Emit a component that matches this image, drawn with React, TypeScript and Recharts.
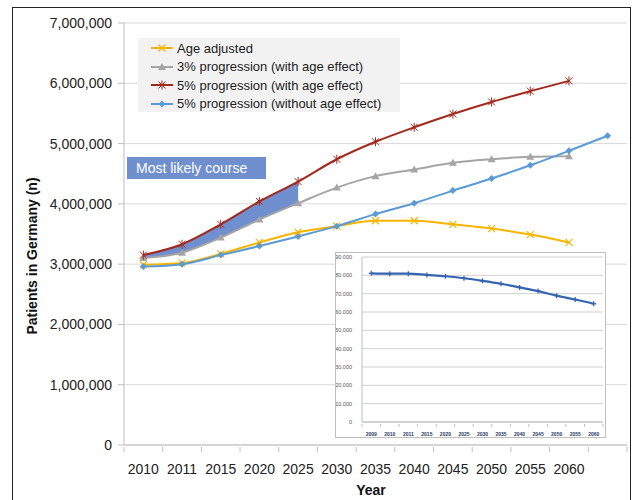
import React from "react";
import {
  Area,
  CartesianGrid,
  ComposedChart,
  Line,
  LineChart,
  XAxis,
  YAxis,
} from "recharts";

// main chart
const years = ["2010", "2011", "2015", "2020", "2025", "2030", "2035", "2040", "2045", "2050", "2055", "2060", ""];
const ageAdjusted = [2990000, 3020000, 3170000, 3360000, 3530000, 3630000, 3720000, 3720000, 3660000, 3590000, 3490000, 3360000, null];
const prog3WithAge = [3100000, 3190000, 3440000, 3740000, 4010000, 4270000, 4460000, 4570000, 4680000, 4740000, 4780000, 4790000, null];
const prog5WithAge = [3150000, 3330000, 3660000, 4040000, 4370000, 4740000, 5030000, 5270000, 5490000, 5690000, 5870000, 6040000, null];
const prog5NoAge = [2960000, 3000000, 3150000, 3300000, 3460000, 3630000, 3830000, 4010000, 4220000, 4420000, 4640000, 4880000, 5130000];
const yTicks = [0, 1000000, 2000000, 3000000, 4000000, 5000000, 6000000, 7000000];
const likelyCourseEnd = "2025";

// inset chart
const insetYears = ["2009", "2010", "2011", "2015", "2020", "2025", "2030", "2035", "2040", "2045", "2050", "2055", "2060"];
const insetValues = [81100, 80900, 80900, 80200, 79500, 78400, 77000, 75400, 73400, 71400, 68900, 66800, 64500];
const insetTicks = [0, 10000, 20000, 30000, 40000, 50000, 60000, 70000, 80000, 90000];

const FONT = '"Liberation Sans", Arial, sans-serif';
const YELLOW = "#f7b500";
const GRAY = "#a5a5a5";
const RED = "#a3281c";
const BLUE = "#5b9bd5";
const BAND = "#6f8fce";

const endIdx = years.indexOf(likelyCourseEnd);
const chartData = years.map((year, i) => ({
  year,
  ageAdjusted: ageAdjusted[i],
  prog3: prog3WithAge[i],
  prog5: prog5WithAge[i],
  prog5NoAge: prog5NoAge[i],
  band: i <= endIdx ? [prog3WithAge[i], prog5WithAge[i]] : null,
}));

const insetData = insetYears.map((year, i) => ({ year, value: insetValues[i] }));

const fmtEn = (v: number) => v.toLocaleString("en-US");
const fmtDe = (v: number) => String(v).replace(/\B(?=(\d{3})+(?!\d))/g, ".");

// excel-style ticks: marks between categories, label in the middle
function makeBoundaryTick(tickLen: number, fontSize: number, dy: number, style: any) {
  return function BoundaryTick(props: any) {
    const { x, y, payload, index, visibleTicksCount, width } = props;
    const half = payload?.offset || width / visibleTicksCount / 2;
    const top = y - tickLen;
    return (
      <g>
        <line x1={x - half} x2={x - half} y1={top} y2={y} stroke="#bfbfbf" />
        {index === visibleTicksCount - 1 && (
          <line x1={x + half} x2={x + half} y1={top} y2={y} stroke="#bfbfbf" />
        )}
        <text x={x} y={y + dy} textAnchor="middle" fontSize={fontSize} {...style}>
          {payload.value}
        </text>
      </g>
    );
  };
}

const MainTick = makeBoundaryTick(5, 14, 22, { fill: "#222", fontFamily: FONT });
const InsetTick = makeBoundaryTick(3, 5, 9, { fill: "#1f3864", fontFamily: FONT, fontWeight: 700 });

function InsetYTick(props: any) {
  const { x, y, payload } = props;
  return (
    <text x={x} y={y} dy={2} textAnchor="end" fontSize={5.5} fontFamily={FONT} fill="#555">
      {fmtDe(payload.value)}
    </text>
  );
}

const hidden = (cx: any, cy: any) => cx == null || cy == null || isNaN(cy);

function CrossDot(props: any) {
  const { cx, cy, index } = props;
  if (hidden(cx, cy)) return <g key={index} />;
  const s = 3.5;
  return (
    <g key={index} stroke={YELLOW} strokeWidth={1.2}>
      <line x1={cx - s} y1={cy - s} x2={cx + s} y2={cy + s} />
      <line x1={cx - s} y1={cy + s} x2={cx + s} y2={cy - s} />
    </g>
  );
}

function TriangleDot(props: any) {
  const { cx, cy, index } = props;
  if (hidden(cx, cy)) return <g key={index} />;
  return <polygon key={index} points={`${cx},${cy - 4} ${cx - 4},${cy + 3} ${cx + 4},${cy + 3}`} fill={GRAY} />;
}

function StarDot(props: any) {
  const { cx, cy, index } = props;
  if (hidden(cx, cy)) return <g key={index} />;
  const s = 3.5;
  return (
    <g key={index} stroke={RED} strokeWidth={1}>
      <line x1={cx - s} y1={cy - s} x2={cx + s} y2={cy + s} />
      <line x1={cx - s} y1={cy + s} x2={cx + s} y2={cy - s} />
      <line x1={cx} y1={cy - s - 1} x2={cx} y2={cy + s + 1} />
    </g>
  );
}

function DiamondDot(props: any) {
  const { cx, cy, index } = props;
  if (hidden(cx, cy)) return <g key={index} />;
  const s = 3.5;
  return (
    <polygon key={index} points={`${cx},${cy - s} ${cx + s},${cy} ${cx},${cy + s} ${cx - s},${cy}`} fill={BLUE} />
  );
}

function PlusDot(props: any) {
  const { cx, cy, index } = props;
  if (hidden(cx, cy)) return <g key={index} />;
  return (
    <g key={index} stroke="#3564b0" strokeWidth={1.3}>
      <line x1={cx - 2.5} y1={cy} x2={cx + 2.5} y2={cy} />
      <line x1={cx} y1={cy - 2.5} x2={cx} y2={cy + 2.5} />
    </g>
  );
}

const legendItems = [
  { label: "Age adjusted", color: YELLOW, Dot: CrossDot },
  { label: "3% progression (with age effect)", color: GRAY, Dot: TriangleDot },
  { label: "5% progression (with age effect)", color: RED, Dot: StarDot },
  { label: "5% progression (without age effect)", color: BLUE, Dot: DiamondDot },
];

function ChartLegend() {
  return (
    <div
      style={{
        position: "absolute",
        left: 138,
        top: 38,
        width: 262,
        height: 74,
        background: "#f2f2f2",
        fontFamily: FONT,
        fontSize: 13,
        color: "#222",
        paddingTop: 1,
        boxSizing: "border-box",
      }}
    >
      {legendItems.map(({ label, color, Dot }) => (
        <div key={label} style={{ display: "flex", alignItems: "center", height: 18.5 }}>
          <svg width={24} height={10} style={{ marginLeft: 13, marginRight: 2 }}>
            <line x1={0} x2={22} y1={5} y2={5} stroke={color} strokeWidth={2} />
            <Dot cx={11} cy={5} index={0} />
          </svg>
          <span>{label}</span>
        </div>
      ))}
    </div>
  );
}

export default function App() {
  return (
    <div style={{ position: "absolute", left: 0, top: 0, width: 634, height: 500, background: "#fff", overflow: "hidden" }}>
      <div
        style={{
          position: "absolute",
          left: 12,
          top: 7,
          width: 619,
          height: 520,
          border: "1px solid #222",
          boxSizing: "border-box",
        }}
      />
      <div style={{ position: "absolute", left: 0, top: 0 }}>
        <ComposedChart width={634} height={500} data={chartData} margin={{ top: 23, right: 7, bottom: 0, left: 0 }}>
          <CartesianGrid vertical={false} stroke="#d9d9d9" />
          <XAxis
            dataKey="year"
            scale="band"
            interval={0}
            height={55}
            tickSize={5}
            tickLine={false}
            stroke="#bfbfbf"
            tick={<MainTick />}
            label={{
              content: () => (
                <text x={371} y={495} textAnchor="middle" fontFamily={FONT} fontSize={14} fontWeight={700} fill="#111">
                  Year
                </text>
              ),
            }}
          />
          <YAxis
            width={124}
            domain={[0, 7000000]}
            ticks={yTicks}
            interval={0}
            tickFormatter={fmtEn}
            tickSize={6}
            tickMargin={6}
            stroke="#bfbfbf"
            tick={{ fill: "#222", fontSize: 14, fontFamily: FONT }}
            label={{
              content: () => (
                <text
                  x={37}
                  y={256}
                  transform="rotate(-90 37 256)"
                  textAnchor="middle"
                  fontFamily={FONT}
                  fontSize={14}
                  fontWeight={700}
                  fill="#111"
                >
                  Patients in Germany (n)
                </text>
              ),
            }}
          />
          <Area
            dataKey="band"
            type="monotone"
            stroke="none"
            fill={BAND}
            fillOpacity={1}
            isAnimationActive={false}
            activeDot={false}
          />
          <Line dataKey="ageAdjusted" type="monotone" stroke={YELLOW} strokeWidth={2} dot={<CrossDot />} isAnimationActive={false} />
          <Line dataKey="prog3" type="monotone" stroke={GRAY} strokeWidth={2} dot={<TriangleDot />} isAnimationActive={false} />
          <Line dataKey="prog5" type="monotone" stroke={RED} strokeWidth={2} dot={<StarDot />} isAnimationActive={false} />
          <Line dataKey="prog5NoAge" type="monotone" stroke={BLUE} strokeWidth={2} dot={<DiamondDot />} isAnimationActive={false} />
        </ComposedChart>
      </div>

      <ChartLegend />

      <div
        style={{
          position: "absolute",
          left: 127,
          top: 157,
          width: 139,
          height: 22,
          background: BAND,
          color: "#fff",
          fontFamily: FONT,
          fontSize: 14,
          lineHeight: "22px",
          paddingLeft: 9,
          boxSizing: "border-box",
        }}
      >
        Most likely course
      </div>

      <div
        style={{
          position: "absolute",
          left: 335,
          top: 252,
          width: 271,
          height: 186,
          background: "#fff",
          border: "1px solid #bfbfbf",
          boxSizing: "border-box",
        }}
      >
        <LineChart width={269} height={184} data={insetData} margin={{ top: 4, right: 2, bottom: 0, left: 0 }}>
          <CartesianGrid vertical={false} stroke="#d0d0d0" />
          <XAxis
            dataKey="year"
            scale="band"
            interval={0}
            height={15}
            tickSize={3}
            tickLine={false}
            stroke="#bfbfbf"
            tick={<InsetTick />}
          />
          <YAxis
            width={26}
            domain={[0, 90000]}
            ticks={insetTicks}
            interval={0}
            tickLine={false}
            tickMargin={4}
            stroke="#bfbfbf"
            tick={<InsetYTick />}
          />
          <Line dataKey="value" type="monotone" stroke="#3564b0" strokeWidth={2.2} dot={<PlusDot />} isAnimationActive={false} />
        </LineChart>
      </div>
    </div>
  );
}
